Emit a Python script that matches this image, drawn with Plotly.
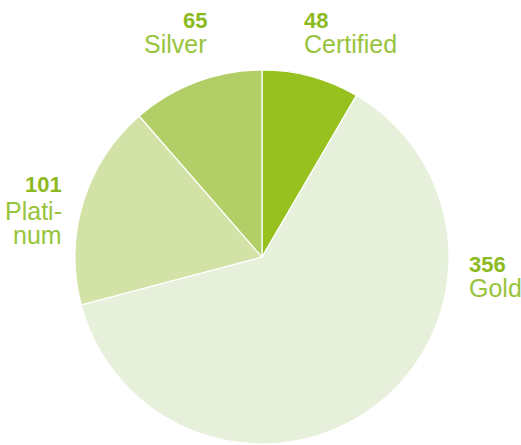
import plotly.graph_objects as go

categories = ["Certified", "Gold", "Platinum", "Silver"]
values = [48, 356, 101, 65]
label_lines = [["Certified"], ["Gold"], ["Plati-", "num"], ["Silver"]]
slice_colors = ["#96C11F", "#E6F0DA", "#D3E3A8", "#B1CF66"]

W, H = 521, 445
cx, cy, r = 262, 257, 187

fig = go.Figure(go.Pie(
    labels=categories,
    values=values,
    sort=False,
    direction="clockwise",
    rotation=0,
    textinfo="none",
    hoverinfo="label+value",
    marker=dict(colors=slice_colors, line=dict(color="white", width=1.2)),
    domain=dict(x=[(cx - r) / W, (cx + r) / W], y=[(H - cy - r) / H, (H - cy + r) / H]),
    showlegend=False,
))

# label placement in pixels: x, center-y of number line, anchor, centers of name lines
label_pos = {
    "Certified": (302, 20.5, "left", [44]),
    "Silver": (209, 20.5, "right", [44]),
    "Platinum": (64, 184.5, "right", [210.5, 234.5]),
    "Gold": (467, 264.5, "left", [287.5]),
}
num_color = "#8CBA1E"
name_color = "#98C43C"
font_fam = "Liberation Sans, Arial, sans-serif"
anns = []
for cat, val, lines in zip(categories, values, label_lines):
    x, y, anc, ys = label_pos[cat]
    anns.append(dict(x=x / W, y=1 - y / H, xref="paper", yref="paper", text=f"<b>{val}</b>",
                     showarrow=False, xanchor=anc, yanchor="middle",
                     font=dict(family=font_fam, size=22, color=num_color)))
    for ln, yy in zip(lines, ys):
        anns.append(dict(x=x / W, y=1 - yy / H, xref="paper", yref="paper", text=ln,
                         showarrow=False, xanchor=anc, yanchor="middle",
                         font=dict(family=font_fam, size=25, color=name_color)))

fig.update_layout(
    width=W, height=H,
    margin=dict(l=0, r=0, t=0, b=0),
    paper_bgcolor="white", plot_bgcolor="white",
    annotations=anns,
)
fig.write_html("out.html")
